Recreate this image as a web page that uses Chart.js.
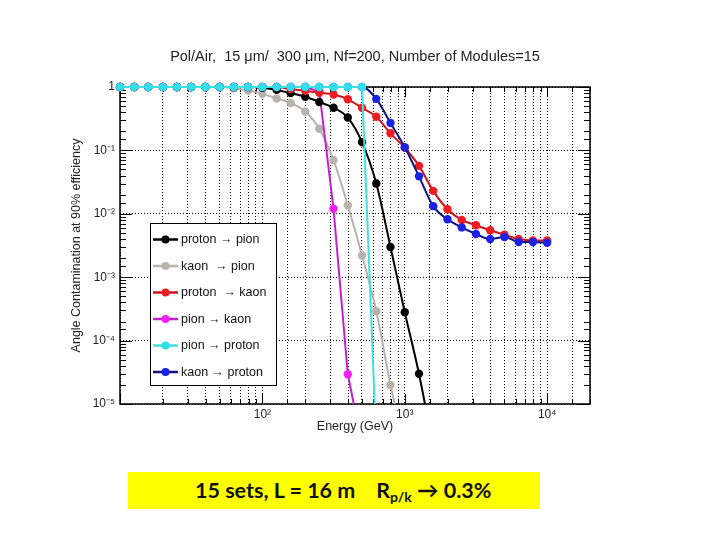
<!DOCTYPE html>
<html>
<head>
<meta charset="utf-8">
<script src="https://cdn.jsdelivr.net/npm/chart.js@4.4.1/dist/chart.umd.min.js"></script>
<style>
  html, body { margin: 0; padding: 0; background: #fff; }
  #wrap { position: relative; width: 720px; height: 540px; }
  #note {
    position: absolute; left: 128px; top: 472px; width: 412px; height: 37px;
    box-sizing: border-box; padding-left: 67px;
    background: #ffff00; color: #111;
    font-family: Lato, 'Open Sans', sans-serif; font-weight: bold; font-size: 21.5px;
    line-height: 37px; white-space: pre;
  }
  #note sub { font-size: 14px; vertical-align: -4px; line-height: 0; }
</style>
</head>
<body>
<div id="wrap">
  <canvas id="chart" width="720" height="540"></canvas>
  <div id="note">15 sets, L = 16 m    R<sub>p/k</sub> → 0.3%</div>
</div>
<script>
// energies (GeV), 10 points per decade
const energies = [10, 12.6, 15.8, 20, 25.1, 31.6, 39.8, 50.1, 63.1, 79.4,
  100, 126, 158, 200, 251, 316, 398, 501, 631, 794,
  1000, 1259, 1585, 1995, 2512, 3162, 3981, 5012, 6310, 7943, 10000];

// contamination values (null = no point)
const protonPion = [1, 1, 1, 1, 1, 1, 1, 1, 1, 1,
  0.97, 0.9, 0.8, 0.7, 0.58, 0.47, 0.33, 0.135, 0.03, 0.003,
  2.8e-4, 3.0e-5, 2e-6, null, null, null, null, null, null, null, null];
const kaonPion = [1, 1, 1, 1, 1, 1, 1, 1, 0.95, 0.88,
  0.78, 0.66, 0.56, 0.41, 0.22, 0.07, 0.0136, 0.0022, 2.9e-4, 2.0e-5,
  2e-6, null, null, null, null, null, null, null, null, null, null];
const protonKaon = [1, 1, 1, 1, 1, 1, 1, 1, 1, 1,
  1, 1, 0.93, 0.87, 0.81, 0.76, 0.64, 0.47, 0.34, 0.186,
  0.11, 0.057, 0.023, 0.0118, 0.008, 0.0066, 0.0055, 0.0047, 0.004, 0.0038, 0.0038];
const pionKaon = [1, 1, 1, 1, 1, 1, 1, 1, 1, 1,
  1, 1, 1, 1, 0.85, 0.012, 2.95e-5, 2.3e-6, null, null,
  null, null, null, null, null, null, null, null, null, null, null];
const pionProton = [1, 1, 1, 1, 1, 1, 1, 1, 1, 1,
  1, 1, 1, 1, 1, 1, 1, 1, 2.3e-6, null,
  null, null, null, null, null, null, null, null, null, null, null];
const kaonProton = [1, 1, 1, 1, 1, 1, 1, 1, 1, 1,
  1, 1, 1, 1, 1, 1, 1, 1, 0.65, 0.27,
  0.112, 0.039, 0.0132, 0.0082, 0.0061, 0.0048, 0.004, 0.0043, 0.0036, 0.0036, 0.0035];

const seriesNames = ['proton \u2192 pion', 'kaon  \u2192 pion', 'proton  \u2192 kaon',
  'pion \u2192 kaon', 'pion \u2192 proton', 'kaon \u2192 proton'];

const titleText = 'Pol/Air,  15 \u03bcm/  300 \u03bcm, Nf=200, Number of Modules=15';

const pts = vals => energies.map((e, i) => ({ x: e, y: vals[i] })).filter(p => p.y != null);

const SUP = { '-': '\u207b', '0': '\u2070', '1': '\u00b9', '2': '\u00b2', '3': '\u00b3', '4': '\u2074', '5': '\u2075' };
const isDecade = v => Math.abs(Math.log10(v) - Math.round(Math.log10(v))) < 1e-6;
const powLabel = v => {
  const p = Math.round(Math.log10(v));
  if (p === 0) return '1';
  return '10' + String(p).split('').map(c => SUP[c]).join('');
};

const mkSet = (i, vals, line, dot, order, smooth) => ({
  label: seriesNames[i],
  data: pts(vals),
  borderColor: line,
  backgroundColor: dot,
  pointBackgroundColor: dot,
  pointBorderColor: dot,
  pointRadius: 4.2,
  pointBorderWidth: 0,
  borderWidth: 2,
  order: order,
  tension: 0,
  cubicInterpolationMode: smooth ? 'monotone' : 'default',
  clip: { left: 6, top: 6, right: 6, bottom: 0 }
});

// title, frame, inner ticks, legend box
const decor = {
  id: 'decor',
  beforeDatasetsDraw(chart) {
    const { ctx, chartArea: a, scales } = chart;
    ctx.save();
    ctx.strokeStyle = '#000';
    ctx.lineWidth = 1;
    scales.y.ticks.forEach(t => {
      const y = Math.round(scales.y.getPixelForValue(t.value)) + 0.5;
      const len = isDecade(t.value) ? 12 : 6;
      ctx.beginPath();
      ctx.moveTo(a.left, y); ctx.lineTo(a.left + len, y);
      ctx.moveTo(a.right, y); ctx.lineTo(a.right - len, y);
      ctx.stroke();
    });
    scales.x.ticks.forEach(t => {
      const x = Math.round(scales.x.getPixelForValue(t.value)) + 0.5;
      const len = isDecade(t.value) ? 10 : 5;
      ctx.beginPath();
      ctx.moveTo(x, a.bottom); ctx.lineTo(x, a.bottom - len);
      ctx.moveTo(x, a.top); ctx.lineTo(x, a.top + len);
      ctx.stroke();
    });
    ctx.lineWidth = 1.5;
    ctx.strokeRect(a.left, a.top, a.right - a.left, a.bottom - a.top);
    ctx.fillStyle = '#222';
    ctx.font = "14.5px 'Liberation Sans', Arial, sans-serif";
    ctx.textAlign = 'center';
    ctx.textBaseline = 'middle';
    ctx.fillText(titleText, (a.left + a.right) / 2, 57);
    ctx.restore();
  },
  afterDatasetsDraw(chart) {
    const { ctx } = chart;
    const bx = 150.5, by = 223.5, bw = 126, bh = 162;
    ctx.save();
    ctx.fillStyle = '#fff';
    ctx.fillRect(bx, by, bw, bh);
    ctx.strokeStyle = '#000';
    ctx.lineWidth = 1;
    ctx.strokeRect(bx, by, bw, bh);
    ctx.font = "12.5px 'Liberation Sans', Arial, sans-serif";
    ctx.textBaseline = 'middle';
    ctx.textAlign = 'left';
    chart.data.datasets.forEach((ds, i) => {
      const y = 239.5 + i * 26.5;
      ctx.strokeStyle = ds.borderColor;
      ctx.lineWidth = 2.5;
      ctx.beginPath();
      ctx.moveTo(153, y); ctx.lineTo(178, y);
      ctx.stroke();
      ctx.fillStyle = ds.pointBackgroundColor;
      ctx.beginPath();
      ctx.arc(165.5, y, 4, 0, Math.PI * 2);
      ctx.fill();
      ctx.fillStyle = '#111';
      ctx.fillText(ds.label, 181, y + 0.5);
    });
    ctx.restore();
  }
};

Chart.defaults.font.family = "'Liberation Sans', Arial, sans-serif";
Chart.defaults.color = '#222';

new Chart(document.getElementById('chart'), {
  type: 'line',
  data: {
    datasets: [
      mkSet(0, protonPion, '#000000', '#000000', 3, true),
      mkSet(1, kaonPion, '#b7b2aa', '#b9b3ab', 5, true),
      mkSet(2, protonKaon, '#c8161c', '#f01c22', 2, true),
      mkSet(3, pionKaon, '#c41fcf', '#f020f0', 4, false),
      mkSet(4, pionProton, '#3ee0e0', '#33dfe6', 0, false),
      mkSet(5, kaonProton, '#12127e', '#1a22e6', 1, true)
    ]
  },
  options: {
    responsive: false,
    animation: false,
    events: [],
    layout: { padding: { left: 65, right: 130, top: 87, bottom: 102 } },
    plugins: { legend: { display: false }, title: { display: false }, tooltip: { enabled: false } },
    scales: {
      x: {
        type: 'logarithmic',
        min: 10, max: 20000,
        afterFit: s => { s.height = 34; },
        border: { display: false, dash: [1, 2] },
        grid: { color: '#000', lineWidth: 1, drawTicks: false },
        ticks: {
          autoSkip: false, maxRotation: 0, padding: 3,
          font: { size: 12 },
          callback: v => isDecade(v) && v >= 100 ? powLabel(v) : ''
        },
        title: { display: true, text: 'Energy (GeV)', font: { size: 12.5 }, padding: { top: 0, bottom: 4 } }
      },
      y: {
        type: 'logarithmic',
        min: 1e-5, max: 1,
        afterFit: s => { s.width = 55; },
        border: { display: false, dash: [1, 2] },
        grid: {
          color: c => (c.tick && isDecade(c.tick.value)) ? '#000' : 'rgba(0,0,0,0)',
          lineWidth: 1, drawTicks: false
        },
        ticks: {
          autoSkip: false, padding: 5,
          font: { size: 12 },
          callback: v => isDecade(v) ? powLabel(v) : ''
        },
        title: { display: true, text: 'Angle Contamination at 90% efficiency', font: { size: 12.5 }, padding: { top: 4, bottom: 4 } }
      }
    }
  },
  plugins: [decor]
});
</script>
</body>
</html>
